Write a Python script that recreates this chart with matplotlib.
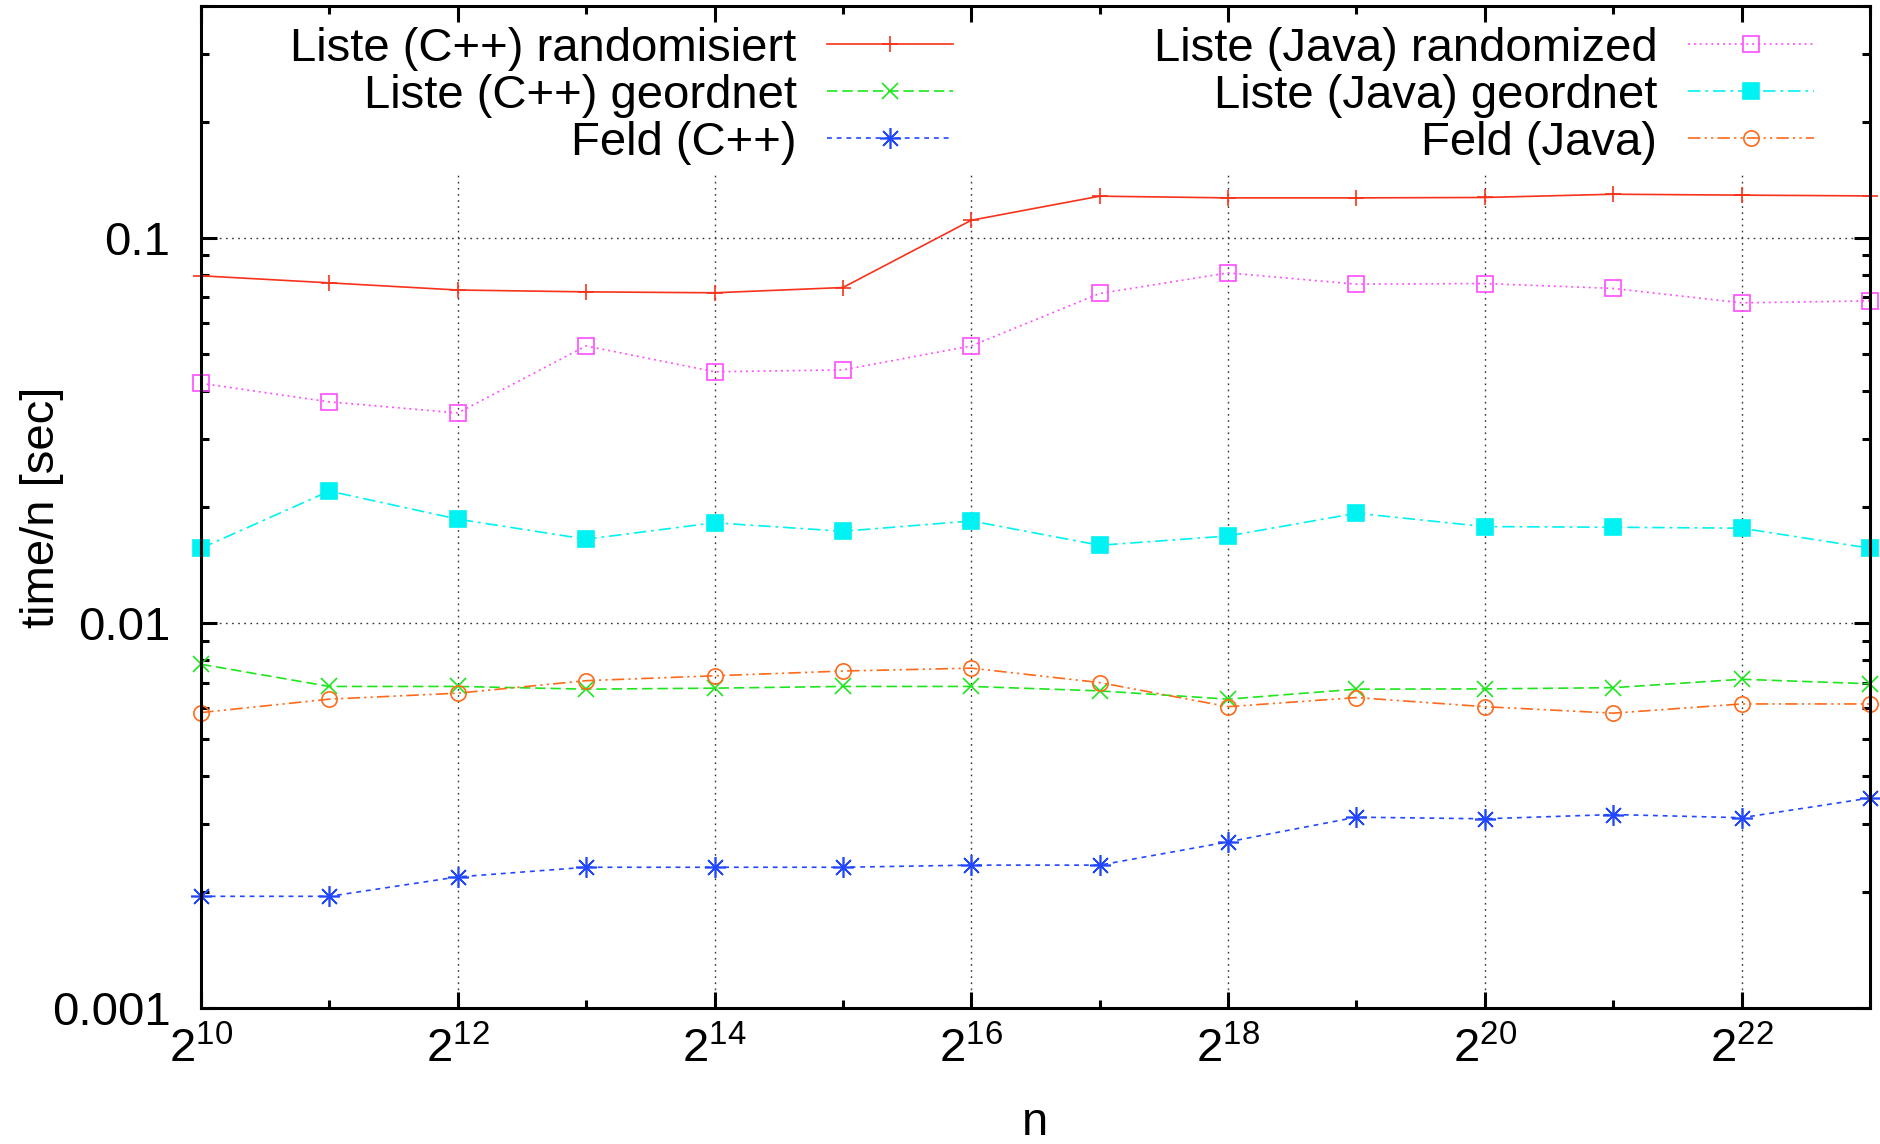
import numpy as np
import matplotlib
matplotlib.use("Agg")
import matplotlib.pyplot as plt
from matplotlib.ticker import FixedLocator, FixedFormatter, LogLocator, NullFormatter

# Problem sizes n = 2^10 ... 2^23
exponents = np.arange(10, 24)
n_values = 2.0 ** exponents

# time/n in seconds
liste_cpp_random = [0.0797, 0.0764, 0.0732, 0.0724, 0.0720, 0.0743, 0.1111,
                    0.1283, 0.1270, 0.1270, 0.1273, 0.1298, 0.1291, 0.1285]
liste_cpp_sorted = [0.00781, 0.00684, 0.00684, 0.00673, 0.00677, 0.00684, 0.00684,
                    0.00666, 0.00634, 0.00673, 0.00674, 0.00679, 0.00714, 0.00695]
feld_cpp = [0.00195, 0.00195, 0.00219, 0.00232, 0.00232, 0.00232, 0.00235,
            0.00235, 0.00270, 0.00313, 0.00310, 0.00318, 0.00312, 0.00351]
liste_java_random = [0.0419, 0.0375, 0.0351, 0.0524, 0.0449, 0.0454, 0.0524,
                     0.0717, 0.0811, 0.0758, 0.0761, 0.0739, 0.0678, 0.0686]
liste_java_sorted = [0.01563, 0.0220, 0.0186, 0.0165, 0.0182, 0.0173, 0.0184,
                     0.01591, 0.01682, 0.01927, 0.01779, 0.01772, 0.01762, 0.01563]
feld_java = [0.00585, 0.00634, 0.00657, 0.00708, 0.00729, 0.00750, 0.00763,
             0.00700, 0.00606, 0.00640, 0.00606, 0.00583, 0.00616, 0.00616]

labels = ["Liste (C++) randomisiert", "Liste (C++) geordnet", "Feld (C++)",
          "Liste (Java) randomized", "Liste (Java) geordnet", "Feld (Java)"]

major_exp = [10, 12, 14, 16, 18, 20, 22]
minor_exp = [11, 13, 15, 17, 19, 21, 23]
y_ticks = [0.001, 0.01, 0.1]
y_tick_labels = ["0.001", "0.01", "0.1"]

plt.rcParams["font.family"] = ["Liberation Sans", "DejaVu Sans"]
plt.rcParams["mathtext.fontset"] = "custom"
plt.rcParams["mathtext.rm"] = "Liberation Sans"
plt.rcParams["mathtext.it"] = "Liberation Sans"
plt.rcParams["mathtext.default"] = "regular"
plt.rcParams["lines.scale_dashes"] = False

FS = 34

fig = plt.figure(figsize=(18.81, 11.44), dpi=100)
ax = fig.add_axes([0.10686, 0.11888, 0.88729, 0.87587])

series = [
    dict(y=liste_cpp_random, color="#f8321a", marker="+", ms=11, ls="-", fill=True),
    dict(y=liste_cpp_sorted, color="#1ee61e", marker="x", ms=11, ls=(0, (7.5, 3.5)), fill=True),
    dict(y=feld_cpp, color="#2248ff", marker=(8, 2, 0), ms=15, ls=(0, (3.5, 3.5)), fill=True),
    dict(y=liste_java_random, color="#ff4cff", marker="s", ms=11, ls=(0, (1.4, 2.8)), fill=False),
    dict(y=liste_java_sorted, color="#00f2f2", marker="s", ms=11, ls=(0, (9, 3.5, 2, 3.5)), fill=True),
    dict(y=feld_java, color="#ff6a1a", marker="o", ms=11, ls=(0, (9, 3, 1.6, 3, 1.6, 3)), fill=False),
]

for s, lab in zip(series, labels):
    ax.plot(n_values, s["y"], color=s["color"], linestyle=s["ls"], linewidth=1.2,
            marker=s["marker"], markersize=s["ms"], markeredgewidth=1.2,
            markerfacecolor=s["color"] if s["fill"] else "none",
            markeredgecolor=s["color"], label=lab, clip_on=False, zorder=3)

ax.set_xscale("log", base=2)
ax.set_yscale("log")
ax.set_xlim(2.0 ** 10, 2.0 ** 23)
ax.set_ylim(0.001, 0.4)

ax.xaxis.set_major_locator(FixedLocator([2.0 ** e for e in major_exp]))
ax.xaxis.set_major_formatter(FixedFormatter([r"$2^{%d}$" % e for e in major_exp]))
ax.xaxis.set_minor_locator(FixedLocator([2.0 ** e for e in minor_exp]))
ax.xaxis.set_minor_formatter(NullFormatter())

ax.yaxis.set_major_locator(FixedLocator(y_ticks))
ax.yaxis.set_major_formatter(FixedFormatter(y_tick_labels))
ax.yaxis.set_minor_locator(LogLocator(base=10, subs=np.arange(2, 10)))
ax.yaxis.set_minor_formatter(NullFormatter())

ax.tick_params(which="both", direction="in", width=2.2, colors="black",
               left=True, right=True, bottom=True, top=False)
ax.tick_params(which="major", length=11.5, labelsize=FS)
ax.tick_params(which="minor", length=6)
ax.tick_params(axis="y", which="major", pad=22)
ax.tick_params(axis="x", which="major", pad=14)

for sp in ax.spines.values():
    sp.set_linewidth(2.2)
    sp.set_zorder(6)

ax.grid(True, which="major", linestyle=(0, (1.2, 3.2)), color="#333333", linewidth=1.0)

ax.set_ylabel("time/n [sec]", fontsize=FS)
ax.yaxis.set_label_coords(-0.082, 0.5)
ax.set_xlabel("n", fontsize=FS)
ax.xaxis.set_label_coords(0.5, -0.093)

leg = ax.legend(loc="upper right", bbox_to_anchor=(0.9692, 0.985),
                bbox_transform=fig.transFigure, ncol=2, markerfirst=False,
                numpoints=1, fontsize=FS, frameon=True, fancybox=False,
                facecolor="white", edgecolor="none", framealpha=1.0,
                borderpad=0.2, borderaxespad=0, handlelength=2.67,
                handletextpad=0.64, columnspacing=4.25, labelspacing=0.065)
leg.set_zorder(5)

# top axis carries only the inward tick marks
top = ax.twiny()
top.set_xscale("log", base=2)
top.set_xlim(ax.get_xlim())
top.xaxis.set_major_locator(FixedLocator([2.0 ** e for e in major_exp]))
top.xaxis.set_minor_locator(FixedLocator([2.0 ** e for e in minor_exp]))
top.xaxis.set_major_formatter(NullFormatter())
top.xaxis.set_minor_formatter(NullFormatter())
top.tick_params(which="both", direction="in", width=2.2, top=True, bottom=False,
                labeltop=False)
top.tick_params(which="major", length=11.5)
top.tick_params(which="minor", length=6)
top.patch.set_visible(False)
for sp in top.spines.values():
    sp.set_visible(False)

fig.savefig("out.png", dpi=100)
